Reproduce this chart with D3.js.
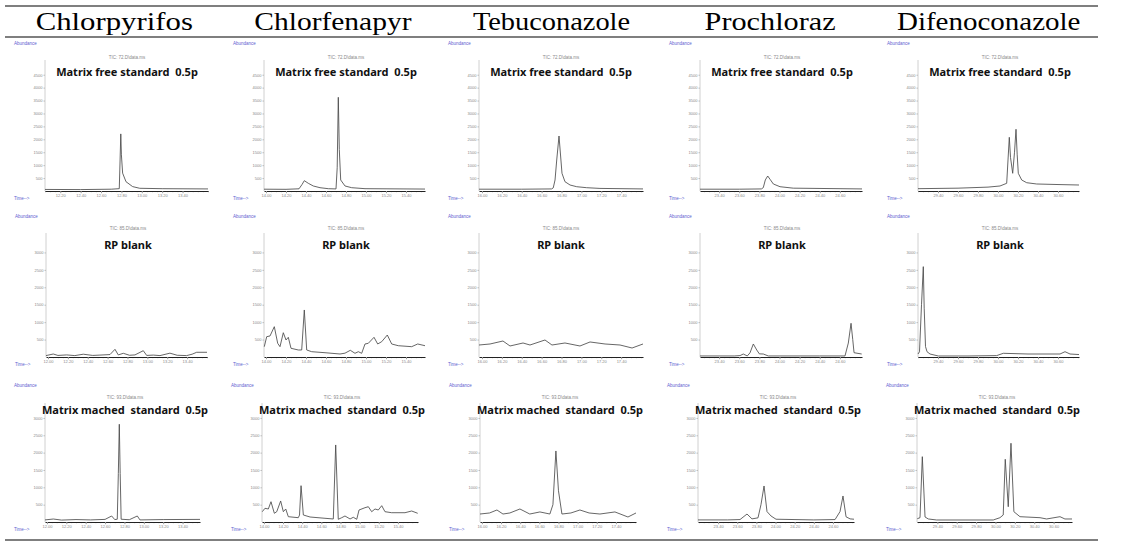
<!DOCTYPE html>
<html>
<head>
<meta charset="utf-8">
<script src="https://cdn.jsdelivr.net/npm/d3@7"></script>
<style>
  body { margin: 0; background: #fff; }
  svg { display: block; }
</style>
</head>
<body>
<svg id="chart" width="1121" height="554"></svg>
<script>
// ── data ──
const compounds = ["Chlorpyrifos", "Chlorfenapyr", "Tebuconazole", "Prochloraz", "Difenoconazole"];
const sampleLabels = ["Matrix free standard  0.5p", "RP blank", "Matrix mached  standard  0.5p"];
const ticTitles = ["TIC: 72.D\\data.ms", "TIC: 85.D\\data.ms", "TIC: 93.D\\data.ms"];
const yTicks = [
  [500, 1000, 1500, 2000, 2500, 3000, 3500, 4000, 4500],
  [500, 1000, 1500, 2000, 2500, 3000],
  [500, 1000, 1500, 2000, 2500, 3000],
];
const timeTicks = [
  ["12.00", "12.20", "12.40", "12.60", "12.80", "13.00", "13.20", "13.40"],
  ["14.00", "14.20", "14.40", "14.60", "14.80", "15.00", "15.20", "15.40"],
  ["16.00", "16.20", "16.40", "16.60", "16.80", "17.00", "17.20", "17.40"],
  ["23.40", "23.60", "23.80", "24.00", "24.20", "24.40", "24.60"],
  ["29.40", "29.60", "29.80", "30.00", "30.20", "30.40", "30.60"],
];
// time window (min) of every panel, rows x compounds
const timeRanges = [
  [[12.05, 13.65], [13.98, 15.59], [15.97, 17.62], [23.21, 24.82], [29.20, 30.81]],
  [[11.98, 13.60], [13.98, 15.59], [15.97, 17.62], [23.21, 24.82], [29.20, 30.81]],
  [[11.98, 13.58], [13.98, 15.61], [15.98, 17.61], [23.19, 24.82], [29.19, 30.79]],
];

// traces: [time, abundance]
const chlorpyrifosFree = [[12.05,60],[12.40,55],[12.70,70],[12.779,90],[12.787,1200],[12.794,2210],[12.800,1400],[12.812,690],[12.845,360],[12.91,170],[12.98,105],[13.20,90],[13.65,80]];
const chlorfenapyrFree = [[13.98,70],[14.20,65],[14.33,85],[14.36,250],[14.383,400],[14.423,298],[14.473,194],[14.54,128],[14.623,89],[14.70,80],[14.712,900],[14.723,3626],[14.733,1600],[14.747,426],[14.79,194],[14.857,128],[14.99,90],[15.59,75]];
const tebuconazoleFree = [[15.97,70],[16.40,70],[16.70,80],[16.717,120],[16.735,426],[16.752,1200],[16.775,2128],[16.805,685],[16.835,360],[16.886,232],[16.953,166],[17.053,128],[17.187,100],[17.62,80]];
const prochlorazFree = [[23.21,70],[23.60,70],[23.82,80],[23.839,130],[23.859,426],[23.883,580],[23.906,453],[23.939,271],[24.005,166],[24.137,110],[24.82,80]];
const difenoconazoleFree = [[29.20,90],[29.60,110],[29.90,150],[30.02,194],[30.087,298],[30.10,1200],[30.113,2078],[30.125,1300],[30.147,685],[30.165,1500],[30.18,2388],[30.192,1400],[30.203,685],[30.237,426],[30.287,321],[30.387,271],[30.60,250],[30.81,232]];

const chlorpyrifosBlank = [[11.98,40],[12.053,86],[12.10,45],[12.188,60],[12.27,40],[12.355,80],[12.45,45],[12.523,55],[12.624,70],[12.674,221],[12.707,60],[12.758,106],[12.82,50],[12.875,60],[12.959,181],[12.993,45],[13.06,55],[13.127,40],[13.227,110],[13.30,50],[13.395,40],[13.45,80],[13.496,135],[13.60,135]];
const chlorfenapyrBlank = [[13.983,296],[14.007,583],[14.04,603],[14.083,870],[14.117,393],[14.14,296],[14.173,697],[14.20,488],[14.223,565],[14.25,250],[14.323,201],[14.357,201],[14.383,1349],[14.407,201],[14.457,152],[14.59,123],[14.74,86],[14.79,110],[14.843,192],[14.89,106],[14.923,152],[14.957,106],[14.99,373],[15.023,393],[15.08,565],[15.117,373],[15.157,439],[15.213,631],[15.257,373],[15.323,324],[15.457,296],[15.517,373],[15.59,324]];
const tebuconazoleBlank = [[15.97,344],[16.081,373],[16.211,459],[16.282,316],[16.413,402],[16.483,344],[16.634,488],[16.704,344],[16.835,402],[16.986,316],[17.087,431],[17.238,373],[17.389,344],[17.51,258],[17.62,373]];
const prochlorazBlank = [[23.21,30],[23.55,30],[23.608,40],[23.64,86],[23.68,30],[23.707,120],[23.74,373],[23.774,200],[23.80,90],[23.839,86],[23.889,30],[24.40,30],[24.651,30],[24.684,400],[24.711,967],[24.728,500],[24.741,123],[24.817,86]];
const difenoconazoleBlank = [[29.20,86],[29.215,150],[29.235,1500],[29.253,2592],[29.262,1400],[29.275,300],[29.29,152],[29.32,86],[29.403,29],[29.70,29],[29.987,40],[30.053,106],[30.30,86],[30.62,86],[30.67,152],[30.72,86],[30.81,70]];

const chlorpyrifosMatched = [[11.98,60],[12.066,86],[12.15,55],[12.30,70],[12.45,60],[12.60,75],[12.668,173],[12.70,70],[12.726,80],[12.737,1400],[12.747,2818],[12.756,1400],[12.766,80],[12.85,65],[12.933,173],[12.96,60],[13.20,70],[13.58,75]];
const chlorfenapyrMatched = [[13.983,297],[14.011,395],[14.046,375],[14.074,585],[14.109,251],[14.134,297],[14.175,606],[14.203,297],[14.228,375],[14.255,153],[14.359,124],[14.372,200],[14.388,1047],[14.412,202],[14.482,144],[14.638,107],[14.725,87],[14.75,2221],[14.777,78],[14.813,124],[14.847,173],[14.90,87],[14.934,136],[14.97,78],[14.994,346],[15.056,412],[15.091,441],[15.126,297],[15.161,375],[15.195,346],[15.231,470],[15.265,297],[15.335,268],[15.474,268],[15.544,317],[15.607,251]];
const tebuconazoleMatched = [[15.98,230],[16.08,260],[16.157,346],[16.22,230],[16.292,260],[16.397,375],[16.50,230],[16.606,290],[16.71,230],[16.742,500],[16.773,2048],[16.80,900],[16.836,230],[16.93,260],[17.024,346],[17.12,260],[17.233,230],[17.39,290],[17.526,144],[17.61,260]];
const prochlorazMatched = [[23.19,60],[23.50,60],[23.629,70],[23.702,230],[23.754,90],[23.817,120],[23.848,500],[23.88,1038],[23.911,300],[23.953,173],[24.005,80],[24.40,60],[24.622,70],[24.674,300],[24.705,750],[24.737,150],[24.779,90],[24.82,80]];
const difenoconazoleMatched = [[29.193,95],[29.221,124],[29.245,1883],[29.273,144],[29.307,87],[29.393,58],[29.977,58],[30.046,124],[30.08,202],[30.101,1808],[30.132,441],[30.16,2270],[30.19,297],[30.253,153],[30.46,124],[30.528,87],[30.666,153],[30.717,87],[30.79,87]];

const traces = [
  [chlorpyrifosFree, chlorfenapyrFree, tebuconazoleFree, prochlorazFree, difenoconazoleFree],
  [chlorpyrifosBlank, chlorfenapyrBlank, tebuconazoleBlank, prochlorazBlank, difenoconazoleBlank],
  [chlorpyrifosMatched, chlorfenapyrMatched, tebuconazoleMatched, prochlorazMatched, difenoconazoleMatched],
];

// ── layout ──
const rows = [
  { base: 191, top: 61.8, axisTop: 60, yMax: 5000, abundY: 45, ticY: 59, labelY: 75.5, labelDx: 82,
    axisX: [45, 264, 479, 700, 918], width: [163, 161, 164, 162, 161] },
  { base: 357, top: 235, axisTop: 233, yMax: 3500, abundY: 218, ticY: 230, labelY: 249, labelDx: 82,
    axisX: [46, 264, 479, 700, 918], width: [161, 161, 164, 162, 161] },
  { base: 522, top: 400.6, axisTop: 403, yMax: 3500, abundY: 387, ticY: 399, labelY: 413.5, labelDx: 80,
    axisX: [45, 262, 480, 698, 917], width: [155, 156, 156, 156, 155] },
];

const svg = d3.select("#chart");

// table rules
[6, 37, 540].forEach((yy) => {
  svg.append("line")
    .attr("x1", 5).attr("x2", 1098)
    .attr("y1", yy).attr("y2", yy)
    .attr("stroke", "#000").attr("stroke-width", 1.2);
});

// column headers (Batang-like wide serif)
const colW = (1098 - 5) / compounds.length;
svg.selectAll("text.head")
  .data(compounds)
  .enter()
  .append("text")
  .attr("class", "head")
  .attr("x", (d, i) => 5 + colW * (i + 0.5))
  .attr("y", 30)
  .attr("text-anchor", "middle")
  .attr("textLength", (d) => d.length * 13.1)
  .attr("lengthAdjust", "spacingAndGlyphs")
  .style("font-family", "'Liberation Serif', serif")
  .style("font-size", "25px")
  .attr("fill", "#000")
  .text((d) => d);

const line = d3.line();

rows.forEach((row, r) => {
  compounds.forEach((name, c) => {
    const x0 = row.axisX[c];
    const x1 = x0 + row.width[c];
    const x = d3.scaleLinear().domain(timeRanges[r][c]).range([x0, x1]);
    const y = d3.scaleLinear().domain([0, row.yMax]).range([row.base, row.top]);
    const g = svg.append("g");

    // small instrument texts
    g.append("text")
      .attr("x", x0 - 31).attr("y", row.abundY)
      .attr("fill", "#6060d0")
      .style("font-family", "'Liberation Sans', sans-serif")
      .style("font-size", "4.5px")
      .text("Abundance");
    g.append("text")
      .attr("x", x0 + row.labelDx).attr("y", row.ticY)
      .attr("text-anchor", "middle")
      .attr("fill", "#888")
      .style("font-family", "'Liberation Sans', sans-serif")
      .style("font-size", "4.5px")
      .text(ticTitles[r]);
    g.append("text")
      .attr("x", x0 - 31).attr("y", row.base + 9)
      .attr("fill", "#6060d0")
      .style("font-family", "'Liberation Sans', sans-serif")
      .style("font-size", "4.5px")
      .text("Time-->");

    // y axis
    g.append("line")
      .attr("x1", x0).attr("x2", x0)
      .attr("y1", row.axisTop).attr("y2", row.base)
      .attr("stroke", "#c4c4c4").attr("stroke-width", 0.8);
    const yAxis = g.append("g")
      .attr("transform", `translate(${x0},0)`)
      .call(d3.axisLeft(y).tickValues(yTicks[r]).tickSize(1.5).tickSizeOuter(0)
        .tickFormat(d3.format("d")));
    yAxis.select(".domain").remove();
    yAxis.selectAll("line").attr("stroke", "#bbb");
    yAxis.selectAll("text")
      .attr("x", -2.5)
      .attr("fill", "#888")
      .style("font-family", "'Liberation Sans', sans-serif")
      .style("font-size", "4px");

    // x axis
    const dom = timeRanges[r][c];
    const tickVals = timeTicks[c]
      .map(Number)
      .filter((t) => t > dom[0] + 0.01 && t < dom[1] - 0.05);
    g.append("g")
      .attr("transform", `translate(0,${row.base})`)
      .call(d3.axisBottom(x).tickValues(x.ticks(32)).tickSize(1.2).tickFormat(""))
      .call((s) => s.select(".domain").remove())
      .selectAll("line").attr("stroke", "#aaa");
    const xAxis = g.append("g")
      .attr("transform", `translate(0,${row.base})`)
      .call(d3.axisBottom(x).tickValues(tickVals).tickSize(2.2).tickSizeOuter(0)
        .tickFormat(d3.format(".2f")));
    xAxis.select(".domain").attr("stroke", "#222").attr("stroke-width", 1.1);
    xAxis.selectAll("line").attr("stroke", "#999");
    xAxis.selectAll("text")
      .attr("y", 3.5)
      .attr("fill", "#888")
      .style("font-family", "'Liberation Sans', sans-serif")
      .style("font-size", "4px");

    // trace
    g.append("path")
      .datum(traces[r][c])
      .attr("d", line.x((d) => x(d[0])).y((d) => y(d[1])))
      .attr("fill", "none")
      .attr("stroke", "#4a4a4a")
      .attr("stroke-width", 0.85)
      .attr("stroke-linejoin", "round");

    // sample label
    g.append("text")
      .attr("x", x0 + row.labelDx).attr("y", row.labelY)
      .attr("text-anchor", "middle")
      .attr("fill", "#111")
      .style("font-family", "'Noto Sans', sans-serif")
      .style("font-weight", "bold")
      .style("font-size", "11px")
      .style("white-space", "pre")
      .text(sampleLabels[r]);
  });
});
</script>
</body>
</html>
